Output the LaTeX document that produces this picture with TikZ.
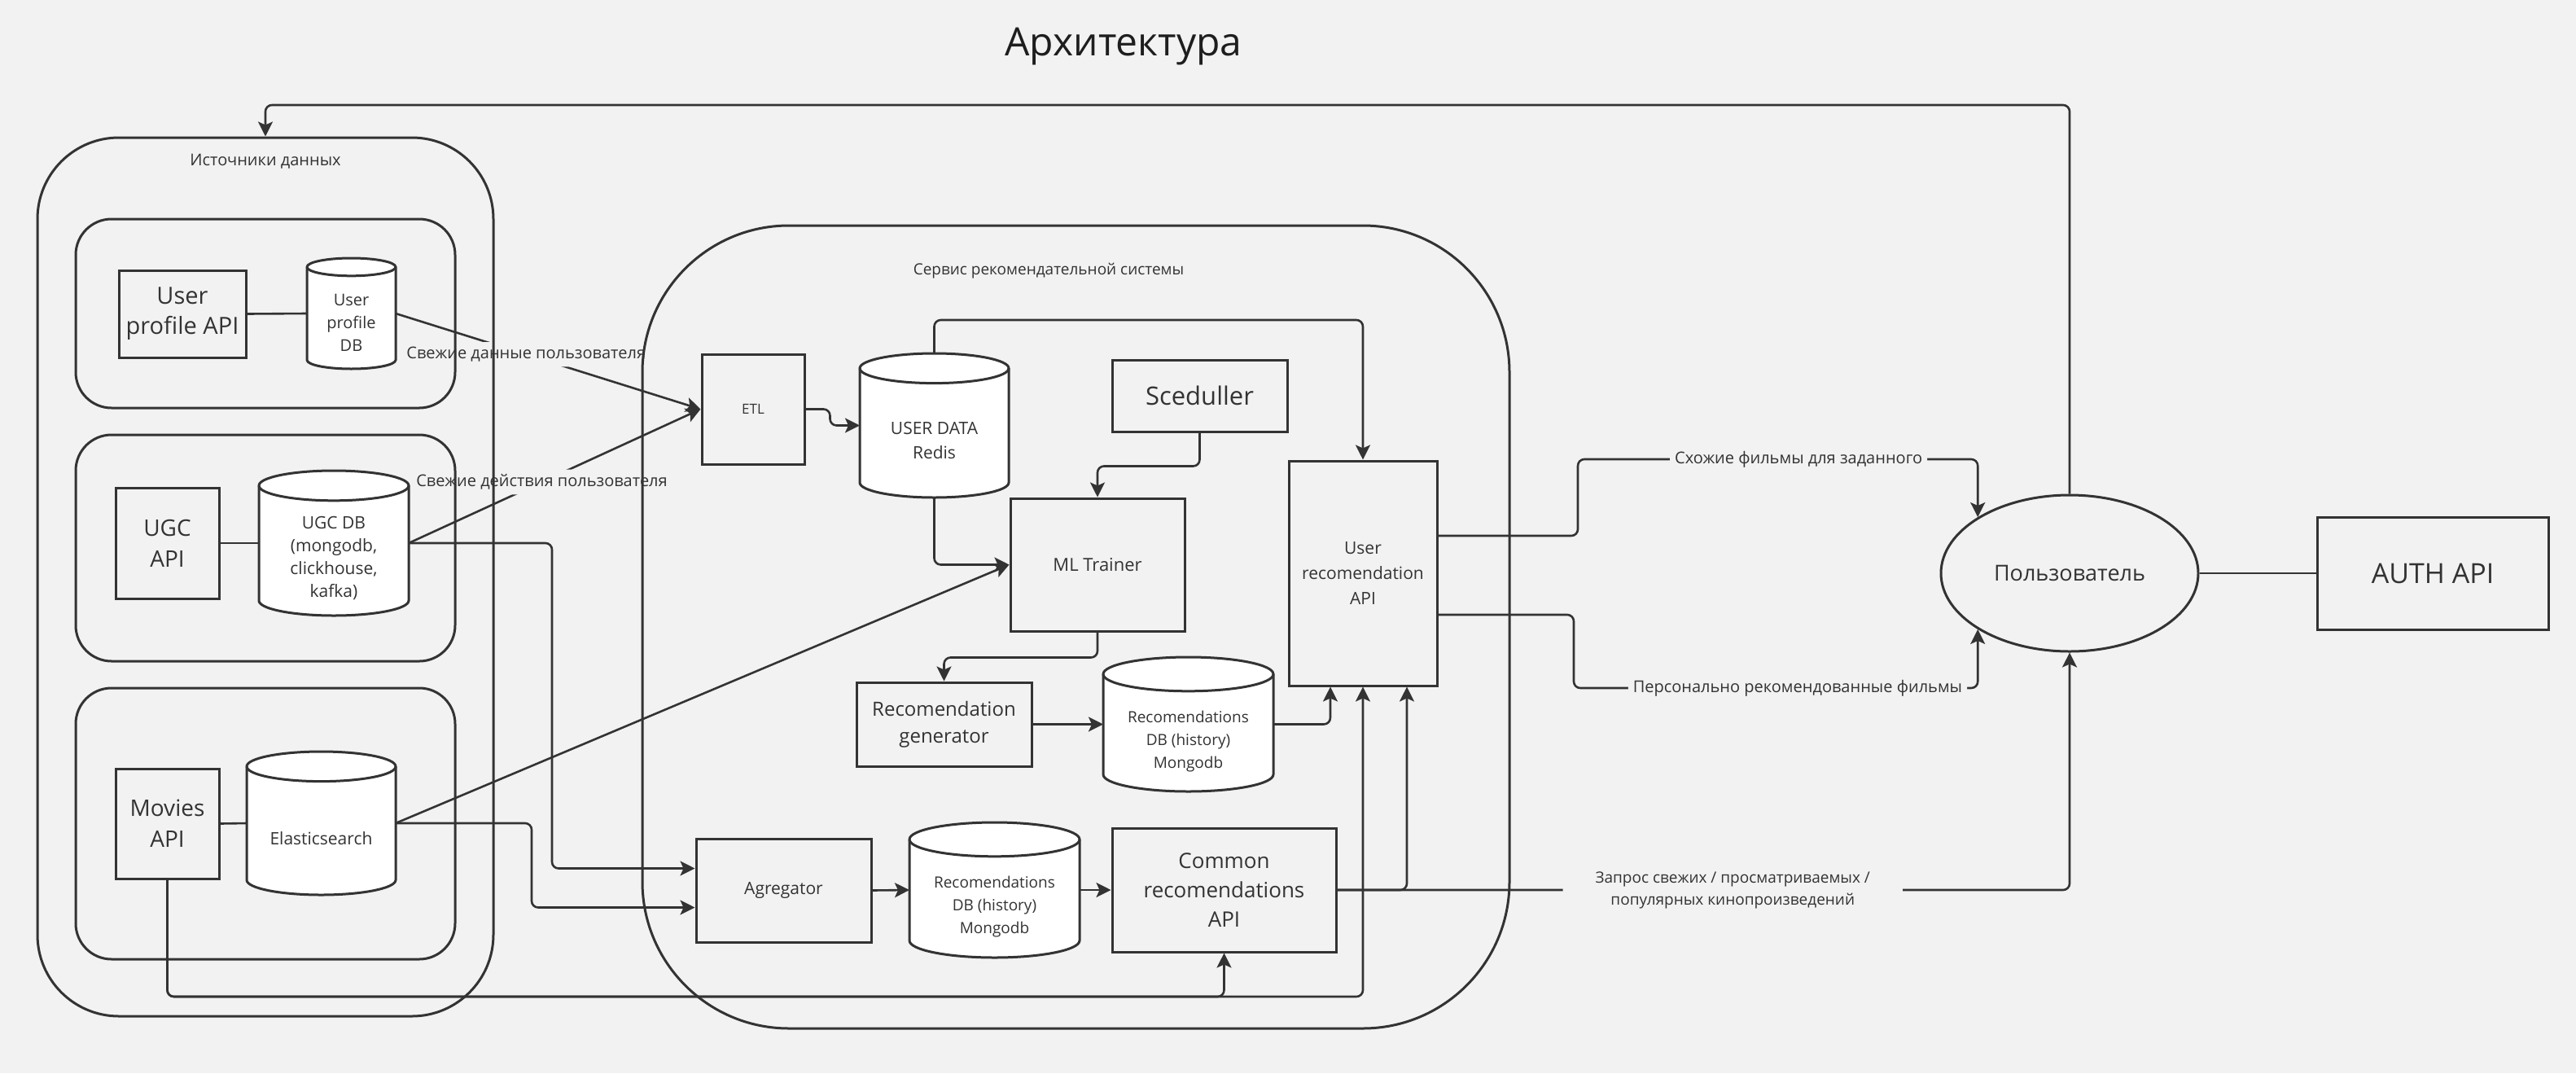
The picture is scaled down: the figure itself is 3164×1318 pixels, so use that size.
\documentclass[tikz,border=0pt]{standalone}
\usepackage{fontspec}
\setmainfont{Open Sans}
\usetikzlibrary{arrows.meta,calc,shapes.geometric}

\definecolor{bgc}{HTML}{F2F2F2}
\definecolor{linec}{HTML}{333333}
\definecolor{titlec}{HTML}{1E1E1E}

\pgfdeclarelayer{back}
\pgfdeclarelayer{background}
\pgfsetlayers{back,background,main}

\tikzset{
  box/.style={draw=linec, line width=1.5pt, align=center, text=linec, inner sep=2pt},
  group/.style={draw=linec, line width=1.5pt, inner sep=0pt},
  dbframe/.style={inner sep=0pt, outer sep=0pt},
  dbtext/.style={align=center, text=linec, inner sep=0pt},
  dbline/.style={draw=linec, fill=white, line width=1.5pt},
  link/.style={draw=linec, line width=1.3pt, rounded corners=4pt},
  arr/.style={link, -{Stealth[length=9pt, width=9pt, inset=2pt]}},
  lbl/.style={fill=bgc, text=linec, inner sep=3pt, font=\fontsize{10}{13}\selectfont},
}

% database cylinder: [font] name, centre, width, height (sketch px), text
\newcommand{\dbnode}[6][]{%
  \node[dbframe, minimum width=0.5pt*#4, minimum height=0.5pt*#5] (#2) at (#3) {};
  \node[dbtext, #1] (#2-t) at ([yshift=-0.05pt*#4]#2.center) {#6};
  \begin{pgfonlayer}{background}
    \filldraw[dbline] ([yshift=-0.05pt*#4]#2.north west) -- ([yshift=0.05pt*#4]#2.south west)
      arc[start angle=180, end angle=360, x radius=0.25pt*#4, y radius=0.05pt*#4]
      -- ([yshift=-0.05pt*#4]#2.north east)
      arc[start angle=0, end angle=180, x radius=0.25pt*#4, y radius=0.05pt*#4] -- cycle;
    \draw[dbline, fill=none] ([yshift=-0.05pt*#4]#2.north west)
      arc[start angle=180, end angle=360, x radius=0.25pt*#4, y radius=0.05pt*#4];
  \end{pgfonlayer}
}

\begin{document}
\begin{tikzpicture}[x=0.5pt, y=-0.5pt]

  \begin{pgfonlayer}{back}
    \fill[bgc] (0,0) rectangle (3164,1318);
  \end{pgfonlayer}

  \node[text=titlec, font=\fontsize{24}{28}\selectfont] (title) at (1380,57) {Архитектура};

  % rails for the long connectors
  \coordinate (toprail) at (0,129);
  \coordinate (mrail) at (0,1224);
  \coordinate (ugcdrop) at (678,0);
  \coordinate (esdrop) at (653,0);
  \coordinate (simrail) at (1938,564);
  \coordinate (perrail) at (1933,845);

  % data sources
  \node[box, minimum width=78pt, minimum height=53.5pt, font=\fontsize{14.5}{18.5}\selectfont] (upapi) at (224,385.5) {User\\profile API};
  \dbnode[font=\fontsize{10}{14}\selectfont]{updb}{431.5,385}{109}{136}{User\\profile\\DB}

  \node[box, minimum width=63.5pt, minimum height=68pt, font=\fontsize{14}{19}\selectfont] (ugcapi) at (205.5,667) {UGC\\API};
  \dbnode[font=\fontsize{10.5}{14}\selectfont]{ugcdb}{410,667}{184}{178}{UGC DB\\(mongodb,\\clickhouse,\\kafka)}

  \node[box, minimum width=63.5pt, minimum height=67.5pt, font=\fontsize{14}{19}\selectfont] (movapi) at (205.5,1011.5) {Movies\\API};
  \dbnode[font=\fontsize{10.5}{14}\selectfont]{elastic}{394.5,1011}{183}{176}{Elasticsearch}

  % recommendation service
  \node[box, minimum width=63pt, minimum height=67.5pt, font=\fontsize{8.5}{11}\selectfont] (etl) at (925,502.5) {ETL};
  \dbnode[font=\fontsize{10.5}{15}\selectfont]{redis}{1147.5,522.5}{183}{177}{USER DATA\\Redis}
  \node[box, minimum width=107.5pt, minimum height=44pt, font=\fontsize{15.5}{19}\selectfont] (sced) at (1473.5,486) {Sceduller};
  \node[box, minimum width=107pt, minimum height=81.5pt, font=\fontsize{11}{14}\selectfont] (ml) at (1348,693.5) {ML Trainer};
  \node[box, minimum width=91pt, minimum height=138pt, font=\fontsize{10.5}{15.5}\selectfont] (userapi) at (1674,704) {User\\recomendation\\API};
  \node[box, minimum width=107.5pt, minimum height=51.5pt, font=\fontsize{12}{16.5}\selectfont] (recgen) at (1159.5,889.5) {Recomendation\\generator};
  \dbnode[font=\fontsize{9.5}{14}\selectfont]{recdb1}{1459.5,889.5}{209}{165}{Recomendations\\DB (history)\\Mongodb}
  \node[box, minimum width=107.5pt, minimum height=63.5pt, font=\fontsize{10.5}{14}\selectfont] (agg) at (962.5,1093.5) {Agregator};
  \dbnode[font=\fontsize{9.5}{14}\selectfont]{recdb2}{1221.5,1093}{209}{166}{Recomendations\\DB (history)\\Mongodb}
  \node[box, minimum width=137.5pt, minimum height=76pt, font=\fontsize{13}{18}\selectfont] (common) at (1503.5,1093) {Common\\recomendations\\API};

  % user side
  \node[box, ellipse, minimum width=158pt, minimum height=96pt, font=\fontsize{13.5}{16}\selectfont] (user) at (2542,704) {Пользователь};
  \node[box, minimum width=142pt, minimum height=69pt, font=\fontsize{17}{20}\selectfont] (auth) at (2988,704) {AUTH API};

  % API -- storage
  \draw[link] (upapi.east) -- (updb.west);
  \draw[link] (ugcapi.east) -- (ugcdb.west);
  \draw[link] (movapi.east) -- (elastic.west);

  % fresh data into ETL
  \draw[arr] (updb.east) -- (etl.west) node[lbl, pos=0.428] (lblud) {Свежие данные пользователя};
  \draw[arr] (ugcdb.east) -- (etl.west) node[lbl, pos=0.456] (lblua) {Свежие действия пользователя};

  \draw[arr] (etl.east) -- ++(30,0) |- (redis.west);
  \draw[arr] (redis.north) -- ++(0,-41) -| (userapi.north);
  \draw[arr] (redis.south) |- (ml.west);
  \draw[arr] (sced.south) -- ++(0,41) -| (ml.north);
  \draw[arr] (elastic.east) -- (ml.west);
  \draw[arr] (ml.south) -- ++(0,31) -| (recgen.north);
  \draw[arr] (recgen.east) -- (recdb1.west);
  \draw[arr] (recdb1.east) -| ($(userapi.south)+(-40,0)$);

  % aggregation branch
  \draw[arr] (ugcdb.east) -- (ugcdb.east -| ugcdrop) |- ($(agg.west)+(0,-27)$);
  \draw[arr] (elastic.east) -- (elastic.east -| esdrop) |- ($(agg.west)+(0,21)$);
  \draw[arr] (agg.east) -- (recdb2.west);
  \draw[arr] (recdb2.east) -- (common.west);
  \draw[arr] (common.east) -| ($(userapi.south)+(54,0)$);
  \draw[arr] (movapi.south) |- (userapi.south |- mrail) -- (userapi.south);
  \draw[arr] (movapi.south) |- (common.south |- mrail) -- (common.south);

  % answers to the user
  \draw[arr] ($(userapi.east)+(0,-46)$) -| (simrail) -| (user.north west)
    node[lbl, pos=0.276] (lblsim) {Схожие фильмы для заданного};
  \draw[arr] ($(userapi.east)+(0,51)$) -| (perrail) -| (user.south west)
    node[lbl, pos=0.277] (lblper) {Персонально рекомендованные фильмы};
  \draw[arr] (common.east) -| (user.south)
    node[lbl, pos=0.27, inner xsep=20pt, align=center, font=\fontsize{9.5}{13.5}\selectfont] (lblreq) {Запрос свежих / просматриваемых /\\популярных кинопроизведений};
  \draw[link] (user.east) -- (auth.west);

  % groups
  \node[group, rounded corners=50pt, minimum width=280pt, minimum height=539.5pt] (src) at (326,708.5) {};
  \node[group, rounded corners=22pt, minimum width=233pt, minimum height=116pt] (srcup) at (326,385) {};
  \node[group, rounded corners=22pt, minimum width=233pt, minimum height=139pt] (srcugc) at (326,673) {};
  \node[group, rounded corners=22pt, minimum width=233pt, minimum height=166.5pt] (srcmov) at (326,1011.5) {};
  \node[group, rounded corners=90pt, minimum width=532.5pt, minimum height=493pt] (svc) at (1321.5,770) {};
  \node[text=linec, font=\fontsize{10}{12}\selectfont] (srclbl) at (326,198) {Источники данных};
  \node[text=linec, font=\fontsize{9.5}{12}\selectfont] (svclbl) at (1288,333) {Сервис рекомендательной системы};

  \draw[arr] (user.north) -- (user.north |- toprail) -| (src.north);

\end{tikzpicture}
\end{document}
